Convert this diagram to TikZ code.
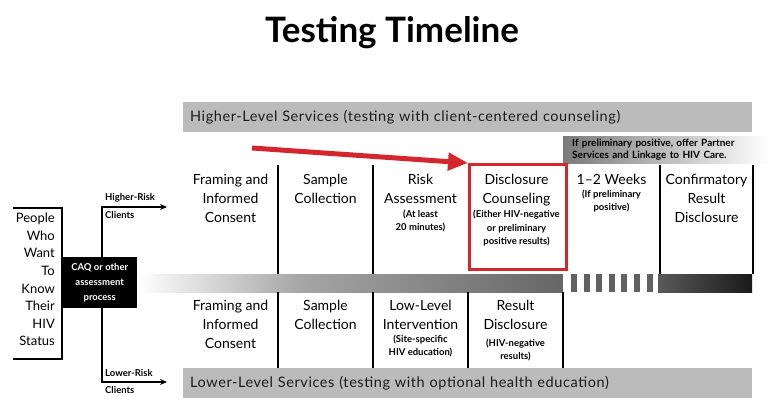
\documentclass[tikz,border=0pt]{standalone}
\usepackage{fontspec}
\setmainfont{Lato}
\usepackage{xcolor}
\definecolor{bandgray}{HTML}{BBBBBB}
\definecolor{inkdark}{HTML}{1C1C1C}
\definecolor{alertred}{HTML}{D3262D}
\usetikzlibrary{arrows.meta, positioning, calc}
\tikzset{
  band/.style={fill=bandgray, anchor=north west, text width=555, minimum height=30,
               inner xsep=7, inner ysep=0, align=left, text=inkdark,
               font=\fontsize{14.5}{16}\selectfont\addfontfeatures{LetterSpace=4}},
  colhead/.style={anchor=north, align=center, inner sep=0,
                  font=\fontsize{14}{19}\selectfont},
  colnote/.style={anchor=north, align=center, inner sep=0,
                  font=\fontsize{9.5}{13.5}\selectfont\bfseries},
  divider/.style={black, line width=2},
  riskarrow/.style={black, line width=2, -{Stealth[length=7pt, width=6pt]}},
  risklabel/.style={inner sep=0, font=\fontsize{9.5}{11}\selectfont\bfseries},
}
\newcommand{\stephead}[3]{% name, position, heading
  \node[colhead] (#1) at (#2) {#3};
}
\newcommand{\stepnote}[4]{% name, node above, gap, note
  \node[colnote, below=#3 of #2] (#1) {#4};
}

\begin{document}
\begin{tikzpicture}[x=1pt, y=-1pt]
  \useasboundingbox (0,0) rectangle (768,412);

  % Title
  \node[font=\fontsize{35}{38}\selectfont\bfseries] (title) at (392,33) {Testing Timeline};

  % Service bands
  \node[band] (hiband) at (183,102) {Higher-Level Services (testing with client-centered counseling)};
  \node[band] (loband) at (183,368) {Lower-Level Services (testing with optional health education)};
  \node[anchor=north west, minimum width=205, minimum height=27, inner xsep=9, inner ysep=0,
        left color=black!52, right color=white, text width=187, align=left,
        font=\fontsize{10}{12}\selectfont\bfseries] (partner) at (563,136)
    {If preliminary positive, offer Partner\\Services and Linkage to HIV Care.};

  % Timeline bar
  \shade[left color=white, right color=black!35] (137,274) rectangle (300,292);
  \shade[left color=black!35, right color=black!60] (300,274) rectangle (563,292);
  \fill[white] (563,274) rectangle (658,292);
  \foreach \i in {0,...,6} {
    \fill[black!62] (571+12.6*\i,274) rectangle (577+12.6*\i,292);
  }
  \shade[left color=black!65, right color=black!90] (658,274) rectangle (752,292);

  % Column dividers
  \foreach \x in {278,373,660,753} {
    \draw[divider] (\x,165) -- (\x,274);
  }
  \foreach \x in {278,373,468,563} {
    \draw[divider] (\x,292) -- (\x,368);
  }

  % Upper steps (higher-risk clients)
  \stephead{hiframe}{230.5,174}{Framing and\\Informed\\Consent}
  \stephead{hisample}{325.5,174}{Sample\\Collection}
  \stephead{hirisk}{420.5,174}{Risk\\Assessment}
  \stepnote{hirisknote}{hirisk}{6pt}{(At least\\20 minutes)}
  \node[draw=alertred, line width=2.5, anchor=north west, minimum width=97,
        minimum height=105] (disc) at (468,163) {};
  \stephead{hidisc}{516.5,174}{Disclosure\\Counseling}
  \stepnote{hidiscnote}{hidisc}{4pt}{(Either HIV-negative\\or preliminary\\positive results)}
  \stephead{hiweeks}{611.5,174}{1--2 Weeks}
  \stepnote{hiweeksnote}{hiweeks}{5pt}{(If preliminary\\positive)}
  \stephead{hiconf}{706.5,174}{Confirmatory\\Result\\Disclosure}

  % Lower steps (lower-risk clients)
  \stephead{loframe}{230.5,300}{Framing and\\Informed\\Consent}
  \stephead{losample}{325.5,300}{Sample\\Collection}
  \stephead{lointer}{420.5,300}{Low-Level\\Intervention}
  \stepnote{lointernote}{lointer}{5pt}{(Site-specific\\HIV education)}
  \stephead{loresult}{515.5,300}{Result\\Disclosure}
  \stepnote{loresultnote}{loresult}{9pt}{(HIV-negative\\results)}

  % Red pointer to disclosure counseling
  \coordinate (pointfrom) at (252,148);
  \draw[alertred, line width=5, -{Triangle[length=20pt, width=17pt]}] (pointfrom) -- (disc.north west);

  % People who want to know their status
  \draw[black, line width=2.5] (13,208) -- (62,208) -- (62,359) -- (13,359);
  \node[anchor=north east, align=right, inner sep=0,
        font=\fontsize{13}{17.6}\selectfont] (people) at (55,213)
    {People\\Who\\Want\\To\\Know\\Their\\HIV\\Status};
  \node[fill=black, text=white, anchor=north west, minimum width=75, minimum height=51,
        align=center, inner sep=0, font=\fontsize{9.5}{15}\selectfont\bfseries] (caq) at (62,257)
    {CAQ or other\\assessment\\process};

  % Risk branches
  \coordinate (hiend) at (167,207);
  \coordinate (loend) at (167,382);
  \draw[riskarrow] (caq.north) ++(2.5,0) |- (hiend);
  \draw[riskarrow] (caq.south) ++(2.5,0) |- (loend);
  \node[risklabel, anchor=south west] (hilabel) at (105,202) {Higher-Risk};
  \node[risklabel, anchor=north west] (hiclients) at (105,211) {Clients};
  \node[risklabel, anchor=south west] (lolabel) at (105,377) {Lower-Risk};
  \node[risklabel, anchor=north west] (loclients) at (105,386) {Clients};
\end{tikzpicture}
\end{document}
